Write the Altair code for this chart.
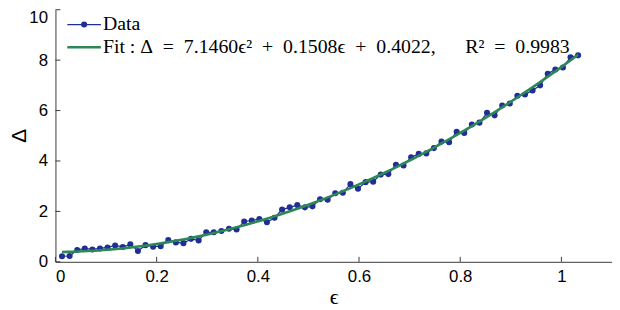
import altair as alt
import pandas as pd

# ---- data ----
eps = [0.013, 0.028, 0.043, 0.058, 0.073, 0.088, 0.103, 0.118, 0.133, 0.148,
       0.163, 0.178, 0.193, 0.208, 0.223, 0.238, 0.253, 0.268, 0.283, 0.298,
       0.313, 0.328, 0.343, 0.358, 0.373, 0.388, 0.403, 0.418, 0.433, 0.448,
       0.463, 0.478, 0.493, 0.508, 0.523, 0.538, 0.553, 0.568, 0.583, 0.598,
       0.613, 0.628, 0.643, 0.658, 0.673, 0.688, 0.703, 0.718, 0.733, 0.748,
       0.763, 0.778, 0.793, 0.808, 0.823, 0.838, 0.853, 0.868, 0.883, 0.898,
       0.913, 0.928, 0.943, 0.958, 0.973, 0.988, 1.003, 1.018, 1.033]
delta = [0.22, 0.23, 0.47, 0.53, 0.49, 0.53, 0.57, 0.65, 0.59, 0.69,
         0.43, 0.66, 0.60, 0.62, 0.86, 0.77, 0.74, 0.91, 0.85, 1.17,
         1.17, 1.22, 1.31, 1.28, 1.60, 1.64, 1.70, 1.57, 1.75, 2.07,
         2.16, 2.25, 2.16, 2.20, 2.48, 2.46, 2.72, 2.74, 3.08, 2.90,
         3.16, 3.18, 3.46, 3.48, 3.85, 3.82, 4.15, 4.28, 4.30, 4.51,
         4.77, 4.74, 5.16, 5.11, 5.45, 5.52, 5.91, 5.81, 6.20, 6.28,
         6.59, 6.64, 6.80, 7.00, 7.46, 7.63, 7.71, 8.11, 8.19]
x_ticks = [0, 0.2, 0.4, 0.6, 0.8, 1.0]
y_ticks = [0, 2, 4, 6, 8, 10]
EN = "\u2002"
legend_labels = ["Data",
                 "Fit : Δ" + EN + "=" + EN + "7.1460ϵ²" + EN + "+" + EN + "0.1508ϵ" + EN + "+" + EN
                 + "0.4022," + EN * 3 + "R²" + EN + "=" + EN + "0.9983"]

# ---- styling ----
W, H = 563, 255
BLUE = "#1f2f96"
GREEN = "#2e8757"
AXIS = "#3a3a3a"

df = pd.DataFrame({"eps": eps, "delta": delta})
xs = alt.Scale(domain=[0, 1.1], nice=False, zero=False)
ys = alt.Scale(domain=[0, 10], nice=False)

xaxis = alt.Axis(values=x_ticks, format="~g", ticks=False, tickSize=0, grid=False,
                 labelPadding=7, labelFont="Liberation Sans", labelFontSize=17,
                 labelColor="black", domainColor=AXIS, domainWidth=1,
                 title="ϵ", titleFont="Liberation Serif", titleFontSize=22,
                 titleFontWeight="normal", titleColor="black",
                 titleBaseline="middle", titleY=35)
yaxis = alt.Axis(values=y_ticks, format="d", ticks=False, tickSize=0, grid=False,
                 labelPadding=8, labelFont="Liberation Sans", labelFontSize=17,
                 labelColor="black", domainColor=AXIS, domainWidth=1,
                 labelBaseline={"condition": {"test": "datum.value == 10", "value": "top"},
                                "value": "middle"},
                 title="Δ", titleFont="Liberation Sans", titleFontSize=21,
                 titleFontWeight="normal", titleColor="black",
                 titleAngle=270, titleBaseline="middle", titleAlign="center",
                 titleX=-36, titleY=127)

X = alt.X("eps:Q", scale=xs, axis=xaxis)
Y = alt.Y("delta:Q", scale=ys, axis=yaxis)

base = alt.Chart(df)
data_line = base.mark_line(color=BLUE, strokeWidth=1.2).encode(x=X, y=Y)
data_pts = base.mark_circle(color=BLUE, size=38, opacity=1).encode(x=X, y=Y)
fit = base.transform_regression("eps", "delta", method="poly", order=2).mark_line(
    color=GREEN, strokeWidth=2.6).encode(x=X, y=Y)

xt = alt.Chart(pd.DataFrame({"eps": x_ticks})).mark_rule(color=AXIS, strokeWidth=1).encode(
    x=X, y=alt.value(H), y2=alt.value(H - 5))
yt = alt.Chart(pd.DataFrame({"delta": y_ticks})).mark_rule(color=AXIS, strokeWidth=1).encode(
    y=Y, x=alt.value(0), x2=alt.value(5))

# legend (top-left, inside the plot)
one = pd.DataFrame({"k": [0]})
leg_line1 = alt.Chart(one).mark_rule(color=BLUE, strokeWidth=1.2).encode(
    x=alt.value(12), x2=alt.value(46), y=alt.value(15))
leg_dot = alt.Chart(one).mark_circle(color=BLUE, size=38, opacity=1).encode(
    x=alt.value(29), y=alt.value(15))
leg_line2 = alt.Chart(one).mark_rule(color=GREEN, strokeWidth=2.6).encode(
    x=alt.value(12), x2=alt.value(46), y=alt.value(38))
leg_t1 = alt.Chart(pd.DataFrame({"t": [legend_labels[0]]})).mark_text(
    align="left", baseline="middle", font="Liberation Serif", fontSize=20, color="black").encode(
    x=alt.value(48), y=alt.value(15), text="t:N")
leg_t2 = alt.Chart(pd.DataFrame({"t": [legend_labels[1]]})).mark_text(
    align="left", baseline="middle", font="Liberation Serif", fontSize=20, color="black").encode(
    x=alt.value(48), y=alt.value(38), text="t:N")

chart = alt.layer(xt, yt, data_line, data_pts, fit,
                  leg_line1, leg_dot, leg_line2, leg_t1, leg_t2).properties(
    width=W, height=H,
    padding={"left": 48, "top": 0, "right": 0, "bottom": 47},
    autosize=alt.AutoSizeParams(type="none"),
    background="white",
).configure_view(stroke=None)

chart.save("out.html", embed_options={"renderer": "svg", "actions": False})
